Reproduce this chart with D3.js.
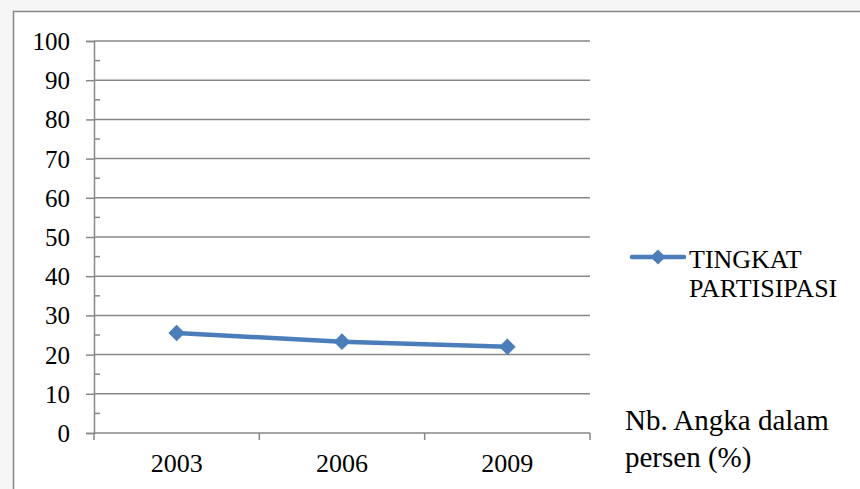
<!DOCTYPE html>
<html>
<head>
<meta charset="utf-8">
<script src="https://cdn.jsdelivr.net/npm/d3@7"></script>
<style>
  html, body { margin: 0; padding: 0; background: #f6f6f6; }
  svg { display: block; }
</style>
</head>
<body>
<div id="chart"></div>
<script>
const years = ["2003", "2006", "2009"];
const partisipasi = [25.5, 23.3, 22.0];
const yTicks = [0, 10, 20, 30, 40, 50, 60, 70, 80, 90, 100];
const seriesName = ["TINGKAT", "PARTISIPASI"];
const noteLines = ["Nb. Angka dalam", "persen (%)"];

const width = 860, height = 489;
const margin = { top: 41, right: 270, bottom: 56, left: 94 };
const boundedWidth = width - margin.left - margin.right;
const boundedHeight = height - margin.top - margin.bottom;
const blue = "#4a7ebb";
const gridColor = "#878787";
const serif = "'Liberation Serif', 'Times New Roman', 'DejaVu Serif', serif";

const svg = d3.select("#chart").append("svg")
  .attr("width", width)
  .attr("height", height);

// chart frame
svg.append("rect")
  .attr("x", 13.5).attr("y", 11.5)
  .attr("width", width).attr("height", height)
  .attr("fill", "#fff")
  .attr("stroke", gridColor)
  .attr("stroke-width", 1.5);

const viz = svg.append("g")
  .attr("transform", `translate(${margin.left},${margin.top})`);

const xScale = d3.scaleBand().domain(years).range([0, boundedWidth]);
const yScale = d3.scaleLinear().domain([0, 100]).range([boundedHeight, 0]);

// horizontal gridlines
viz.append("g")
  .selectAll("line")
  .data(yTicks.filter(d => d > 0))
  .join("line")
  .attr("x1", 0).attr("x2", boundedWidth)
  .attr("y1", d => yScale(d)).attr("y2", d => yScale(d))
  .attr("stroke", gridColor)
  .attr("stroke-width", 1.5);

// minor ticks on y axis (inside)
viz.append("g")
  .selectAll("line")
  .data(yTicks.slice(0, -1).map(d => d + 5))
  .join("line")
  .attr("x1", 0).attr("x2", 6)
  .attr("y1", d => yScale(d)).attr("y2", d => yScale(d))
  .attr("stroke", gridColor)
  .attr("stroke-width", 1.5);

// y axis
const yAxis = viz.append("g")
  .call(d3.axisLeft(yScale).tickValues(yTicks).tickSize(8).tickPadding(16));
yAxis.select(".domain").attr("stroke", gridColor).attr("stroke-width", 1.5);
yAxis.selectAll(".tick line").attr("stroke", gridColor).attr("stroke-width", 1.5);
yAxis.selectAll(".tick text")
  .style("font-family", serif)
  .style("font-size", "25px")
  .attr("fill", "#000")
  .attr("dy", "0.34em");

// x axis
const xAxisGroup = viz.append("g")
  .attr("transform", `translate(0,${boundedHeight})`);
xAxisGroup.append("line")
  .attr("x1", 0).attr("x2", boundedWidth)
  .attr("stroke", gridColor).attr("stroke-width", 1.5);
const boundaries = years.map(d => xScale(d)).concat([boundedWidth]);
xAxisGroup.selectAll(".bt")
  .data(boundaries)
  .join("line")
  .attr("class", "bt")
  .attr("x1", d => d).attr("x2", d => d)
  .attr("y1", 0).attr("y2", 7)
  .attr("stroke", gridColor).attr("stroke-width", 1.5);
xAxisGroup.selectAll(".lbl")
  .data(years)
  .join("text")
  .attr("class", "lbl")
  .attr("x", d => xScale(d) + xScale.bandwidth() / 2)
  .attr("y", 39)
  .attr("text-anchor", "middle")
  .style("font-family", serif)
  .style("font-size", "26px")
  .text(d => d);

// series line
const pts = years.map((y, i) => ({ year: y, value: partisipasi[i] }));
const lineGenerator = d3.line()
  .x(d => xScale(d.year) + xScale.bandwidth() / 2)
  .y(d => yScale(d.value));

viz.append("path")
  .datum(pts)
  .attr("d", lineGenerator)
  .attr("fill", "none")
  .attr("stroke", blue)
  .attr("stroke-width", 4.5)
  .attr("stroke-linecap", "round");

const diamond = d3.symbol().type(d3.symbolSquare).size(115);
viz.selectAll(".marker")
  .data(pts)
  .join("path")
  .attr("class", "marker")
  .attr("d", diamond)
  .attr("transform", d => `translate(${xScale(d.year) + xScale.bandwidth() / 2},${yScale(d.value)}) rotate(45)`)
  .attr("fill", blue)
  .attr("stroke", blue)
  .attr("stroke-width", 1);

// legend
const legend = svg.append("g").attr("transform", "translate(632,257)");
legend.append("line")
  .attr("x1", 0).attr("x2", 52)
  .attr("stroke", blue).attr("stroke-width", 4.5)
  .attr("stroke-linecap", "round");
legend.append("path")
  .attr("d", diamond)
  .attr("transform", "translate(26,0) rotate(45)")
  .attr("fill", blue);
legend.selectAll("text")
  .data(seriesName)
  .join("text")
  .attr("x", 57)
  .attr("y", (d, i) => 11 + i * 29)
  .style("font-family", serif)
  .style("font-size", "26px")
  .text(d => d);

// note
svg.append("g")
  .selectAll("text")
  .data(noteLines)
  .join("text")
  .attr("x", 625)
  .attr("y", (d, i) => 430 + i * 37)
  .style("font-family", serif)
  .style("font-size", "29px")
  .text(d => d);
</script>
</body>
</html>
